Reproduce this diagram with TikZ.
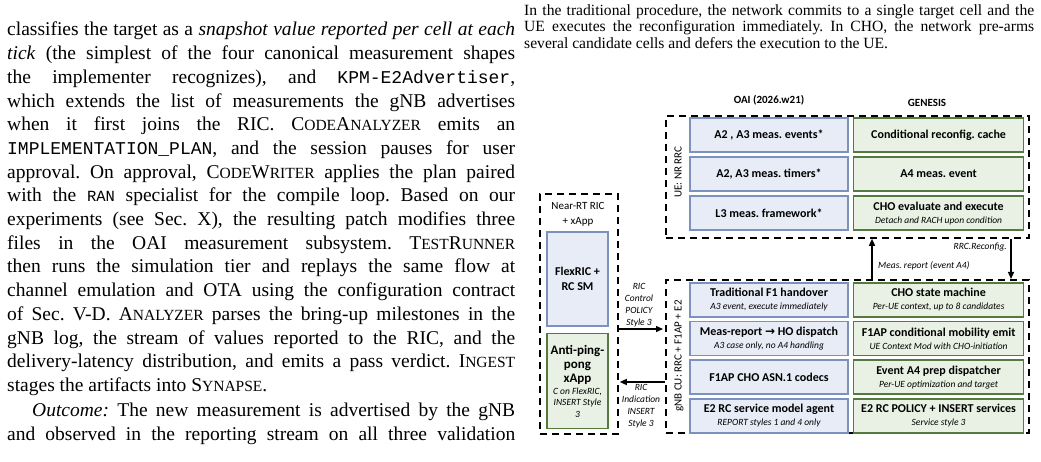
\documentclass[tikz,border=0pt]{standalone}
\usepackage{fontspec}
\setmainfont{Liberation Serif}
\setmonofont{Liberation Mono}
\newfontfamily\figfont{Carlito}
\newfontfamily\symfont{DejaVu Sans}
\usetikzlibrary{arrows.meta, positioning}
\definecolor{oaifill}{RGB}{232,236,246}
\definecolor{oaiedge}{RGB}{124,146,190}
\definecolor{genfill}{RGB}{233,241,228}
\definecolor{genedge}{RGB}{84,122,64}
\newcommand{\smc}[1]{{\fontsize{15.5}{15.5}\selectfont #1}}
\newcommand{\mono}[1]{{\ttfamily\fontsize{18}{18}\selectfont #1}}
\newcommand{\subt}[1]{{\mdseries\itshape\fontsize{9.5}{11}\selectfont #1}}
\frenchspacing

\begin{document}
\begin{tikzpicture}[x=1pt, y=-1pt,
  every node/.style={inner sep=0pt},
  oai/.style={draw=oaiedge, fill=oaifill, line width=1.6pt, align=center,
              minimum width=158pt, minimum height=34pt,
              font=\figfont\bfseries\fontsize{12}{13}\selectfont},
  gen/.style={oai, draw=genedge, fill=genfill, minimum width=170pt},
  grp/.style={draw, line width=1.8pt, dash pattern=on 7pt off 5pt, anchor=north west},
  lbl/.style={font=\figfont\itshape\fontsize{9.5}{12}\selectfont, align=center},
  hdr/.style={font=\figfont\bfseries\fontsize{11}{13}\selectfont},
  side/.style={font=\figfont\fontsize{11}{13}\selectfont, rotate=90},
  arr/.style={-{Triangle[length=7pt, width=6pt]}, line width=1.4pt},
  para/.style={anchor=north west, align=justify, text width=508pt,
               font=\fontsize{19.5}{23.7}\selectfont}]
\path[fill=white, use as bounding box] (0,0) rectangle (1041,462);

\node[para] (body) at (7,22) {classifies the target as a \textit{snapshot value reported per cell at each}\linebreak
\textit{tick} (the simplest of the four canonical measurement shapes\linebreak
the implementer recognizes), and \mono{KPM-E2Advertiser},\linebreak
which extends the list of measurements the gNB advertises\linebreak
when it first joins the RIC. C\smc{ODE}A\smc{NALYZER} emits an\linebreak
\mono{IMPLEMENTATION\_PLAN}, and the session pauses for user\linebreak
approval. On approval, C\smc{ODE}W\smc{RITER} applies the plan paired\linebreak
with the \mono{\smc{RAN}} specialist for the compile loop. Based on our\linebreak
experiments (see Sec. X), the resulting patch modifies three\linebreak
files in the OAI measurement subsystem. T\smc{EST}R\smc{UNNER}\linebreak
then runs the simulation tier and replays the same flow at\linebreak
channel emulation and OTA using the configuration contract\linebreak
of Sec. V-D. A\smc{NALYZER} parses the bring-up milestones in the\linebreak
gNB log, the stream of values reported to the RIC, and the\linebreak
delivery-latency distribution, and emits a pass verdict. I\smc{NGEST}\linebreak
stages the artifacts into S\smc{YNAPSE}.};
\node[para, below=7pt of body.south west, anchor=north west] (outcome) {\hspace*{25pt}\textit{Outcome:} The new measurement is advertised by the gNB\linebreak
and observed in the reporting stream on all three validation\linebreak\mbox{}};

\node[para, text width=510pt, font=\fontsize{15.6}{16.6}\selectfont] (caption) at (524,4) {In the traditional procedure, the network commits to a single target cell and the\linebreak
UE executes the reconfiguration immediately. In CHO, the network pre-arms\linebreak
several candidate cells and defers the execution to the UE.};

\node[hdr] (oaihdr) at (769,100) {OAI (2026.w21)};
\node[hdr] (genhdr) at (927,103) {GENESIS};

\node[grp, minimum width=363pt, minimum height=122pt] (ue) at (665,115) {};
\node[grp, minimum width=363pt, minimum height=153pt] (gnb) at (665,279) {};
\node[grp, minimum width=78pt, minimum height=240pt] (ric) at (539,193) {};

\node[side] (uelbl) at (678,172) {UE: NR RRC};
\node[side] (gnblbl) at (679,356) {gNB CU: RRC + F1AP + E2};

\node[oai] (events) at (769,135) {A2 , A3 meas. events*};
\node[oai, below=3.5pt of events] (timers) {A2, A3 meas. timers*};
\node[oai, below=3.5pt of timers] (lthree) {L3 meas. framework*};
\node[gen, right=4pt of events] (cache) {Conditional reconfig. cache};
\node[gen, right=4pt of timers] (afour) {A4 meas. event};
\node[gen, right=4pt of lthree] (evalexec) {CHO evaluate and execute\\\subt{Detach and RACH upon condition}};

\node[oai] (trad) at (769,300) {Traditional F1 handover\\\subt{A3 event, execute immediately}};
\node[oai, below=3pt of trad] (dispatch) {Meas-report {\symfont\bfseries →} HO dispatch\\\subt{A3 case only, no A4 handling}};
\node[oai, below=3pt of dispatch] (codecs) {F1AP CHO ASN.1 codecs};
\node[oai, below=3pt of codecs] (agent) {E2 RC service model agent\\\subt{REPORT styles 1 and 4 only}};
\node[gen, right=4pt of trad] (statem) {CHO state machine\\\subt{Per-UE context, up to 8 candidates}};
\node[gen, right=4pt of dispatch] (emit) {F1AP conditional mobility emit\\\subt{UE Context Mod with CHO-initiation}};
\node[gen, right=4pt of codecs] (prep) {Event A4 prep dispatcher\\\subt{Per-UE optimization and target}};
\node[gen, right=4pt of agent] (rcsvc) {E2 RC POLICY + INSERT services\\\subt{Service style 3}};

\node[font=\figfont\fontsize{11}{15}\selectfont, align=center] (riclbl) at (578,214) {Near-RT RIC\\+ xApp};
\node[oai, minimum width=61pt, minimum height=94pt, font=\figfont\bfseries\fontsize{12}{15}\selectfont] (flexric) at (577.5,279) {FlexRIC +\\RC SM};
\node[gen, minimum width=61pt, minimum height=95pt, font=\figfont\bfseries\fontsize{13}{14}\selectfont] (xapp) at (577.5,381) {Anti-ping-\\pong\\xApp\\[-2pt]\subt{C on FlexRIC,}\\[-2.5pt]\subt{INSERT Style}\\[-2.5pt]\subt{3}};

\coordinate (ctl) at (640,329);
\coordinate (ind) at (640,382);
\coordinate (rep) at (872,258);
\coordinate (cfg) at (1011,258);
\draw[arr, shorten >=2pt] (ric.east |- ctl) -- (gnb.west |- ctl);
\draw[arr, shorten >=1pt] (gnb.west |- ind) -- (ric.east |- ind);
\draw[arr] (gnb.north -| rep) -- (ue.south -| rep);
\draw[arr] (ue.south -| cfg) -- (gnb.north -| cfg);

\node[lbl] (ctllbl) at (639,305) {RIC\\Control\\POLICY\\Style 3};
\node[lbl] (indlbl) at (641,406) {RIC\\Indication\\INSERT\\Style 3};
\node[lbl, anchor=west] (replbl) at (878,266) {Meas. report (event A4)};
\node[lbl, anchor=east] (cfglbl) at (1007,247) {RRC.Reconfig.};
\end{tikzpicture}
\end{document}
